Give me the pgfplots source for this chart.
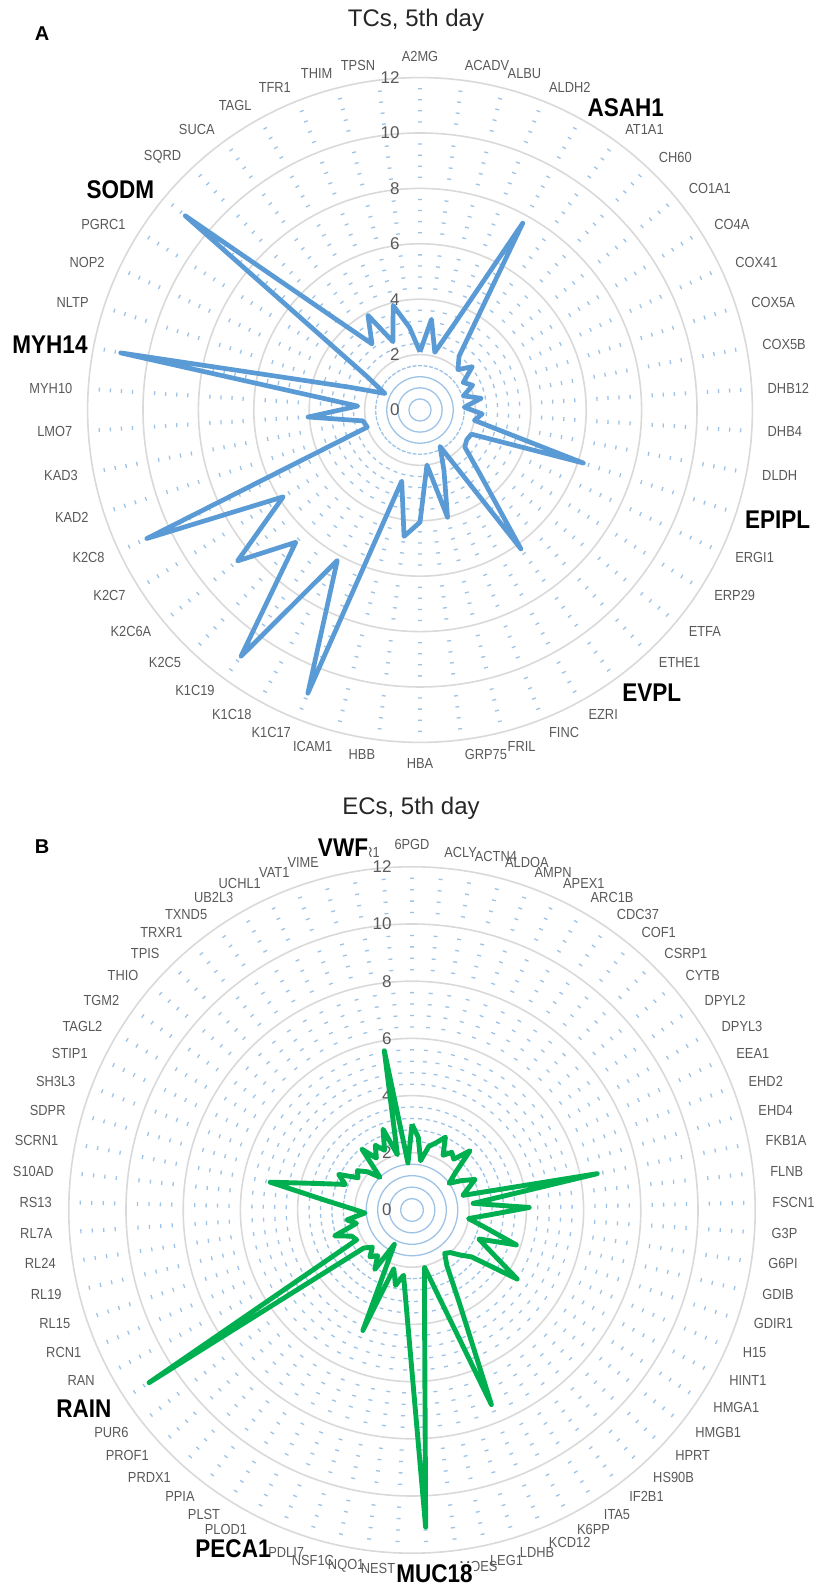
\documentclass[border=0pt]{standalone}
\usepackage{pgfplots}
\pgfplotsset{compat=1.18}
\usepackage{pgfplotstable}
\usetikzlibrary{calc}
\usepackage{fontspec}
\setmainfont{Liberation Sans}
\newfontfamily\nf[FakeStretch=0.88]{Liberation Sans}
\definecolor{tcblue}{HTML}{5B9BD5}
\definecolor{ecgreen}{HTML}{00B050}
\definecolor{minorblue}{HTML}{9DC3E6}
\definecolor{majorgray}{HTML}{D9D9D9}
\definecolor{labgray}{HTML}{595959}
\newcommand\catfont{\nf\fontsize{7.3bp}{9bp}\selectfont}
\newcommand\boldfont{\nf\bfseries\fontsize{12.8bp}{14bp}\selectfont}

% TCs, 5th day: index i (0 = A2MG, clockwise), value v; last row closes the loop
\pgfplotstableread{
i v
0 2.1
1 3.3
2 2.15
3 3.3
4 7.7
5 2.4
6 2.0
7 2.45
8 1.85
9 2.1
10 1.65
11 2.25
12 1.6
13 2.25
14 2.0
15 6.2
16 2.05
17 2.0
18 2.1
19 3.15
20 6.2
21 1.5
22 2.35
23 4.0
24 2.0
25 4.05
26 4.6
27 2.65
28 11.0
29 6.2
30 11.0
31 6.55
32 8.55
33 5.85
34 10.9
35 2.0
36 2.1
37 4.05
38 2.25
39 11.0
40 2.65
41 1.4
42 2.3
43 11.0
44 4.6
45 2.95
46 3.9
47 2.65
48 3.9
49 3.0
50 2.1
}\tcdata

% ECs, 5th day: index i (0 = 6PGD, clockwise), value v; last row closes the loop
\pgfplotstableread{
i v
0 3.0
1 2.55
2 1.75
3 2.3
4 2.5
5 2.8
6 2.2
7 2.45
8 2.3
9 2.9
10 2.0
11 1.6
12 2.0
13 2.45
14 2.1
15 1.85
16 6.6
17 2.15
18 4.1
19 2.7
20 2.0
21 2.65
22 3.85
23 2.55
24 3.2
25 4.4
26 2.65
27 2.3
28 2.0
29 1.9
30 2.3
31 3.6
32 7.35
33 3.2
34 2.05
35 3.4
36 11.1
37 3.8
38 2.3
39 2.7
40 2.15
41 4.55
42 1.35
43 2.45
44 2.0
45 2.2
46 1.9
47 2.15
48 11.0
49 2.2
50 2.3
51 2.85
52 2.0
53 2.3
54 1.65
55 2.1
56 3.0
57 5.05
58 3.35
59 2.5
60 2.85
61 2.2
62 2.35
63 2.05
64 1.6
65 2.75
66 2.2
67 2.6
68 2.3
69 3.0
70 2.0
71 5.65
72 1.65
73 3.0
}\ecdata

% #1 cx (bp), #2 cy (bp), #3 unit (bp), #4 number of spokes, #5 phase fraction
\newcommand\ringgrid[5]{%
  \foreach \k in {1,...,29}{%
    \pgfmathtruncatemacro\m{mod(\k,5)}%
    \ifnum\m>0
      \pgfmathsetmacro\r{0.4*\k*#3}%
      \pgfmathsetmacro\p{2*pi*\r/#4}%
      \pgfmathsetmacro\ph{1.0+#5*\p}%
      \pgfmathsetmacro\off{\p-2.0}%
      \ifdim\p pt<2.6pt
        \draw[minorblue,line width=0.65bp] (#1bp,#2bp) circle[radius=\r bp];
      \else
        \draw[minorblue,line width=0.65bp,dash pattern=on 2.0bp off \off bp,dash phase=\ph bp] (#1bp,#2bp) circle[radius=\r bp];
      \fi
    \fi
  }%
  \foreach \k in {2,4,...,12}{%
    \pgfmathsetmacro\rr{\k*#3}%
    \draw[majorgray,line width=0.8bp] (#1bp,#2bp) circle[radius=\rr bp];
  }%
  \foreach \k in {0,2,...,12}{%
    \pgfmathsetmacro\yy{#2+\k*#3}%
    \pgfmathsetmacro\xx{#1-10}%
    \node[anchor=east,text=labgray,font=\fontsize{8.5bp}{10bp}\selectfont,inner sep=0pt] at (\xx bp,\yy bp) {\k};
  }%
}
% #1 cx, #2 cy, #3 radius (bp), #4 N, #5 names
\newcommand\catlabels[5]{%
  \foreach \nm [count=\i from 0] in {#5}{%
    \pgfmathsetmacro\tha{\i*(360/#4)}%
    \pgfmathsetmacro\sn{sin(\tha)}%
    \ifdim\sn pt>0.01pt \def\an{west}\else
      \ifdim\sn pt<-0.01pt \def\an{east}\else
        \ifdim\tha pt<90pt \def\an{south}\else \def\an{north}\fi
      \fi
    \fi
    \node[font=\catfont,text=labgray,inner sep=0.5bp,anchor=\an] at ($(#1bp,#2bp)+({90-\tha}:#3bp)$) {\nm};
  }%
}

\begin{document}
\begin{tikzpicture}
\useasboundingbox (0,0) rectangle (411bp,793.5bp);

% ---------- A: TCs ----------
\ringgrid{210}{588.5}{13.85}{50}{0.5}
\begin{axis}[hide axis, clip=false, anchor=origin, at={(210bp,588.5bp)},
  x=13.85bp, y=13.85bp, xmin=-13, xmax=13, ymin=-13, ymax=13]
\addplot[tcblue, line width=2.35bp, line join=round, mark=none]
  table[x expr={\thisrow{v}*sin(\thisrow{i}*7.2)}, y expr={\thisrow{v}*cos(\thisrow{i}*7.2)}] {\tcdata};
\end{axis}
\catlabels{210}{588.5}{173.5}{50}{A2MG,ACADV,ALBU,ALDH2,{},AT1A1,CH60,CO1A1,CO4A,COX41,COX5A,COX5B,DHB12,DHB4,DLDH,{},ERGI1,ERP29,ETFA,ETHE1,{},EZRI,FINC,FRIL,GRP75,HBA,HBB,ICAM1,K1C17,K1C18,K1C19,K2C5,K2C6A,K2C7,K2C8,KAD2,KAD3,LMO7,MYH10,{},NLTP,NOP2,PGRC1,{},SQRD,SUCA,TAGL,TFR1,THIM,TPSN}
\node[font=\boldfont,inner sep=0.5bp] at (312.9bp,739.4bp) {ASAH1};
\node[font=\boldfont,inner sep=0.5bp] at (60.2bp,698.5bp) {SODM};
\node[font=\boldfont,inner sep=0.5bp] at (25bp,621bp) {MYH14};
\node[font=\boldfont,inner sep=0.5bp] at (388.8bp,533.5bp) {EPIPL};
\node[font=\boldfont,inner sep=0.5bp] at (325.9bp,446.9bp) {EVPL};
\node[font=\fontsize{12bp}{14bp}\selectfont,text=black!85] at (208bp,783.5bp) {TCs, 5th day};
\node[font=\bfseries\fontsize{10bp}{12bp}\selectfont] at (21bp,776.5bp) {A};

% ---------- B: ECs ----------
\ringgrid{206}{188.5}{14.3}{73}{0.75}
\begin{axis}[hide axis, clip=false, anchor=origin, at={(206bp,188.5bp)},
  x=14.3bp, y=14.3bp, xmin=-13, xmax=13, ymin=-13, ymax=13]
\addplot[ecgreen, line width=2.45bp, line join=round, mark=none]
  table[x expr={\thisrow{v}*sin(\thisrow{i}*(360/73))}, y expr={\thisrow{v}*cos(\thisrow{i}*(360/73))}] {\ecdata};
\end{axis}
\catlabels{206}{188.5}{179.5}{73}{6PGD,ACLY,ACTN4,ALDOA,AMPN,APEX1,ARC1B,CDC37,COF1,CSRP1,CYTB,DPYL2,DPYL3,EEA1,EHD2,EHD4,FKB1A,FLNB,FSCN1,G3P,G6PI,GDIB,GDIR1,H15,HINT1,HMGA1,HMGB1,HPRT,HS90B,IF2B1,ITA5,K6PP,KCD12,LDHB,LEG1,MOES,{},NEST,NQO1,NSF1C,PDLI7,{},PLOD1,PLST,PPIA,PRDX1,PROF1,PUR6,{},RAN,RCN1,RL15,RL19,RL24,RL7A,RS13,S10AD,SCRN1,SDPR,SH3L3,STIP1,TAGL2,TGM2,THIO,TPIS,TRXR1,TXND5,UB2L3,UCHL1,VAT1,VIME,{},WDR1}
\node[font=\boldfont,inner sep=0.5bp,fill=white] at (171.5bp,369.4bp) {VWF};
\node[font=\boldfont,inner sep=0.5bp] at (41.9bp,89.4bp) {RAIN};
\node[font=\boldfont,inner sep=0.5bp] at (116.5bp,19.4bp) {PECA1};
\node[font=\boldfont,inner sep=0.5bp,fill=white] at (217.3bp,6.9bp) {MUC18};
\node[font=\fontsize{12bp}{14bp}\selectfont,text=black!85] at (205.5bp,389.5bp) {ECs, 5th day};
\node[font=\bfseries\fontsize{10bp}{12bp}\selectfont] at (21bp,370bp) {B};
\end{tikzpicture}
\end{document}
